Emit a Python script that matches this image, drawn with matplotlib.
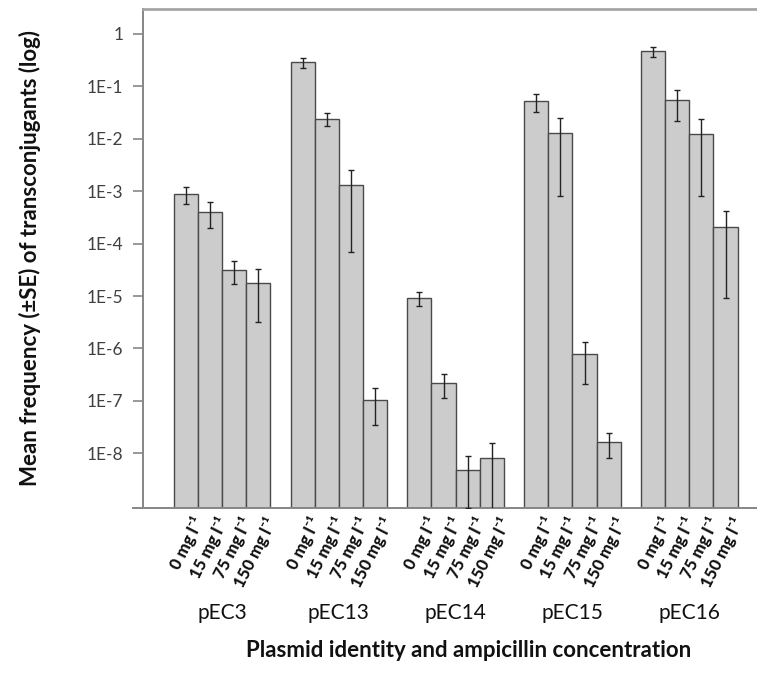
import matplotlib
matplotlib.use("Agg")
from matplotlib import pyplot as plt
from matplotlib.transforms import blended_transform_factory
import numpy as np

plasmids = ["pEC3", "pEC13", "pEC14", "pEC15", "pEC16"]
concentrations = ["0 mg l⁻¹", "15 mg l⁻¹", "75 mg l⁻¹", "150 mg l⁻¹"]

# mean frequency of transconjugants, rows = plasmid, cols = concentration
mean_pEC3 = [8.9e-4, 4.1e-4, 3.2e-5, 1.8e-5]
mean_pEC13 = [0.29, 0.024, 1.3e-3, 1.04e-7]
mean_pEC14 = [9.2e-6, 2.2e-7, 4.8e-9, 8.1e-9]
mean_pEC15 = [0.053, 0.013, 7.8e-7, 1.64e-8]
mean_pEC16 = [0.47, 0.054, 0.0125, 2.1e-4]

# standard errors
se_pEC3 = [3.1e-4, 2.07e-4, 1.48e-5, 1.48e-5]
se_pEC13 = [0.063, 0.0066, 1.23e-3, 7.0e-8]
se_pEC14 = [2.8e-6, 1.07e-7, 3.9e-9, 7.6e-9]
se_pEC15 = [0.02, 0.0122, 5.7e-7, 8.1e-9]
se_pEC16 = [0.1, 0.032, 0.0117, 2.01e-4]

tick_values = [1, 1e-1, 1e-2, 1e-3, 1e-4, 1e-5, 1e-6, 1e-7, 1e-8]
tick_labels = ["1", "1E-1", "1E-2", "1E-3", "1E-4", "1E-5", "1E-6", "1E-7", "1E-8"]

means = np.array([mean_pEC3, mean_pEC13, mean_pEC14, mean_pEC15, mean_pEC16])
ses = np.array([se_pEC3, se_pEC13, se_pEC14, se_pEC15, se_pEC16])

FONT = ["Lato", "DejaVu Sans"]
plt.rcParams["font.family"] = FONT

fig = plt.figure(figsize=(7.57, 6.73), dpi=100)
ax = fig.add_axes([143 / 757, (673 - 508.3) / 673, 1 - 143 / 757, (508.3 - 9) / 673])

width = 0.207
x = np.arange(len(plasmids))
for j in range(len(concentrations)):
    pos = x + (j - 1.5) * width
    ax.bar(pos, means[:, j], width=width, color="#cccccc", edgecolor="#4a4a4a",
           linewidth=1.0, align="center", zorder=2)
    ax.errorbar(pos, means[:, j], yerr=ses[:, j], fmt="none", ecolor="#222222",
                elinewidth=1.0, capsize=2.3, capthick=1.0, zorder=3)

ax.set_yscale("log")
ax.set_ylim(10 ** -9.05, 10 ** 0.477)
ax.set_xlim(-0.677, 4.58)
ax.set_yticks(tick_values)
ax.set_yticklabels(tick_labels)
ax.yaxis.set_minor_locator(matplotlib.ticker.NullLocator())
ax.set_xticks([])

ax.tick_params(axis="y", direction="out", length=7, width=1.2, color="#868686",
               labelsize=12.5, labelcolor="#404040", pad=7)
for s in ["left", "bottom"]:
    ax.spines[s].set_color("#868686")
    ax.spines[s].set_linewidth(1.4)
ax.spines["top"].set_color("#a6a6a6")
ax.spines["top"].set_linewidth(2)
ax.spines["right"].set_visible(False)
# small cross of the category axis to the left of the value axis
ax.plot([-0.017, 0], [0, 0], transform=ax.transAxes, color="#868686",
        lw=1.4, clip_on=False)

# rotated concentration labels under each bar
trans = blended_transform_factory(ax.transData, ax.transAxes)
for i in range(len(plasmids)):
    for j, c in enumerate(concentrations):
        ax.text(x[i] + (j - 1.5) * width + 0.05, -0.012, c, transform=trans,
                rotation=63, rotation_mode="anchor", ha="right", va="top",
                fontsize=12, fontweight="black", family=FONT, color="#111111")
    ax.text(x[i], -0.21, plasmids[i], transform=trans, ha="center", va="center",
            fontsize=15, color="#111111")

ax.text(0.53, -0.285, "Plasmid identity and ampicillin concentration",
        transform=ax.transAxes, ha="center", va="center", fontsize=16,
        fontweight="bold", color="#111111")
fig.text(30 / 757, 1 - 258 / 673, "Mean frequency (\u00b1SE) of transconjugants (log)",
         rotation=90, ha="center", va="center", fontsize=16, fontweight="bold",
         color="#111111")

fig.savefig("out.png", dpi=100)
